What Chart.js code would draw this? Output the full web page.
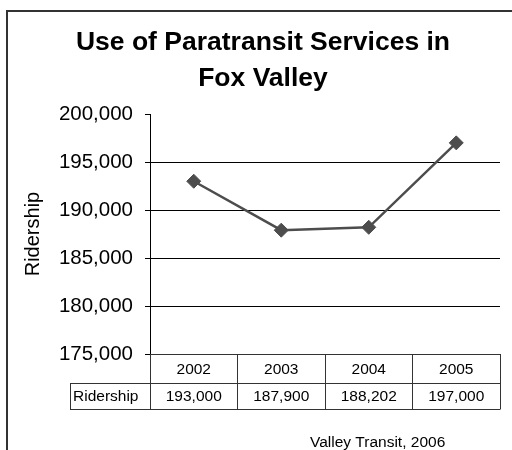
<!DOCTYPE html>
<html><head><meta charset="utf-8">
<script src="https://cdn.jsdelivr.net/npm/chart.js@4.4.1/dist/chart.umd.min.js"></script>
<style>html,body{margin:0;padding:0;background:#fff;} #wrap{width:512px;height:450px;position:relative;}</style>
</head><body><div id="wrap"><canvas id="c" width="512" height="450"></canvas></div>
<script>
const categories = ['2002', '2003', '2004', '2005'];
const ridership = [193000, 187900, 188202, 197000];
const seriesName = 'Ridership';
const yMin = 175000;
const yMax = 200000;
const yStep = 5000;
const titleLines = ['Use of Paratransit Services in', 'Fox Valley'];
const yAxisTitle = 'Ridership';
const sourceText = 'Valley Transit, 2006';
const fmt = v => Number(v).toLocaleString('en-US');

Chart.defaults.font.family = "'Liberation Sans', Arial, sans-serif";
Chart.defaults.color = '#000';

const decorPlugin = {
  id: 'decor',
  afterDraw(chart) {
    const {ctx, chartArea: a, scales: {x}} = chart;
    const hw = (x.getPixelForValue(1) - x.getPixelForValue(0)) / 2;
    const edges = categories.map((c, i) => x.getPixelForValue(i) - hw);
    edges.push(x.getPixelForValue(categories.length - 1) + hw);
    const top = a.bottom, mid = top + 29, bot = mid + 26, labelLeft = 70;
    ctx.save();
    ctx.strokeStyle = '#333';
    ctx.lineWidth = 1;
    const r = v => Math.round(v) + 0.5;
    ctx.beginPath();
    ctx.moveTo(edges[0], r(top)); ctx.lineTo(edges[edges.length - 1], r(top));
    ctx.moveTo(labelLeft, r(mid)); ctx.lineTo(edges[edges.length - 1], r(mid));
    ctx.moveTo(labelLeft, r(bot)); ctx.lineTo(edges[edges.length - 1], r(bot));
    edges.forEach(e => { ctx.moveTo(r(e - 0.5), top); ctx.lineTo(r(e - 0.5), r(bot)); });
    ctx.moveTo(r(labelLeft), r(mid)); ctx.lineTo(r(labelLeft), r(bot));
    ctx.stroke();
    ctx.fillStyle = '#000';
    ctx.font = "15.5px 'Liberation Sans', Arial, sans-serif";
    ctx.textAlign = 'center';
    ctx.textBaseline = 'middle';
    categories.forEach((c, i) => {
      const cx = x.getPixelForValue(i);
      ctx.fillText(c, cx, (top + mid) / 2 + 1);
      ctx.fillText(fmt(ridership[i]), cx, (mid + bot) / 2 + 1);
    });
    ctx.textAlign = 'left';
    ctx.fillText(seriesName, labelLeft + 3, (mid + bot) / 2 + 1);
    ctx.textBaseline = 'alphabetic';
    ctx.fillText(sourceText, 310, 447);
    ctx.strokeStyle = '#333';
    ctx.lineWidth = 2;
    ctx.beginPath();
    ctx.moveTo(7, 450); ctx.lineTo(7, 11); ctx.lineTo(512, 11);
    ctx.stroke();
    ctx.restore();
  }
};

new Chart(document.getElementById('c'), {
  type: 'line',
  data: {
    labels: categories,
    datasets: [{
      label: seriesName,
      data: ridership,
      borderColor: '#4d4d4d',
      borderWidth: 2.5,
      backgroundColor: '#4d4d4d',
      pointStyle: 'rectRot',
      pointRadius: 7,
      pointBorderWidth: 1,
      pointBorderColor: '#4d4d4d',
      pointBackgroundColor: '#4d4d4d',
      tension: 0,
      clip: false
    }]
  },
  options: {
    responsive: false,
    devicePixelRatio: 1,
    animation: false,
    layout: {padding: {left: 26, right: 12, top: 0, bottom: 96}},
    plugins: {
      legend: {display: false},
      tooltip: {enabled: false},
      title: {
        display: true,
        text: titleLines,
        color: '#000',
        font: {size: 26.5, weight: 'bold', lineHeight: 1.36},
        padding: {top: 25, bottom: 17}
      }
    },
    scales: {
      x: {type: 'category', display: false, offset: true},
      y: {
        type: 'linear',
        min: yMin,
        max: yMax,
        ticks: {stepSize: yStep, callback: v => fmt(v), font: {size: 20.5}, color: '#000', padding: 12},
        grid: {
          color: c => (c.tick && c.tick.value === yMax) ? 'rgba(0,0,0,0)' : '#000',
          tickColor: '#000',
          tickLength: 5,
          lineWidth: 1
        },
        border: {display: true, color: '#000', width: 1},
        title: {display: true, text: yAxisTitle, color: '#000', font: {size: 20, lineHeight: 1}, padding: {top: -3, bottom: 0}},
        afterFit: s => { s.width = 124; }
      }
    }
  },
  plugins: [decorPlugin]
});
</script>
</body></html>
